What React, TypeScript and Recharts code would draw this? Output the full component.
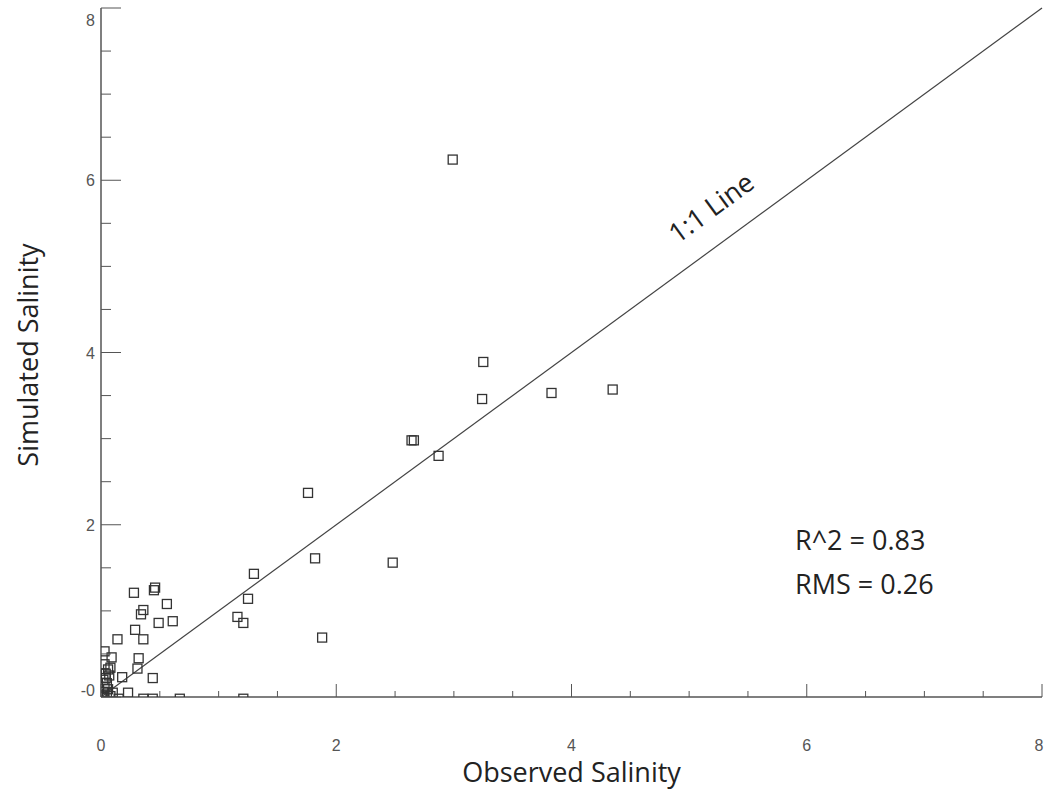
import React from "react";
import {
  ScatterChart,
  Scatter,
  XAxis,
  YAxis,
  ReferenceLine,
  ReferenceDot,
} from "recharts";

const observed = [
  2.99, 3.25, 3.24, 3.83, 4.35, 2.64, 2.66, 2.87, 1.76, 1.82, 2.48, 1.3, 1.25,
  1.16, 1.21, 1.88, 1.21, 0.28, 0.46, 0.45, 0.56, 0.36, 0.34, 0.49, 0.61, 0.29,
  0.36, 0.14, 0.03, 0.09, 0.32, 0.08, 0.31, 0.18, 0.44, 0.23, 0.15, 0.36, 0.44,
  0.67, 0.03, 0.06, 0.04, 0.07, 0.02, 0.05, 0.03, 0.06, 0.02, 0.05, 0.03, 0.08,
  0.01, 0.1, 0.04,
];
const simulated = [
  6.24, 3.89, 3.46, 3.53, 3.57, 2.98, 2.98, 2.8, 2.37, 1.61, 1.56, 1.43, 1.14,
  0.93, 0.86, 0.69, -0.02, 1.21, 1.27, 1.24, 1.08, 1.01, 0.96, 0.86, 0.88, 0.78,
  0.67, 0.67, 0.53, 0.46, 0.45, 0.34, 0.33, 0.23, 0.22, 0.05, -0.02, -0.02,
  -0.02, -0.02, 0.38, 0.32, 0.27, 0.25, 0.2, 0.16, 0.12, 0.09, 0.06, 0.04, 0.02,
  0.01, 0.0, 0.05, 0.22,
];
const axisTicks = [0, 0.5, 1, 1.5, 2, 2.5, 3, 3.5, 4, 4.5, 5, 5.5, 6, 6.5, 7, 7.5, 8];
const stats = ["R^2 = 0.83", "RMS = 0.26"];

const points = observed.map((x, i) => ({ x, y: simulated[i] }));

const AXIS = "#555";
const tickFont = { fontFamily: "Liberation Sans", fontSize: 16, fill: "#555" };

const isMajor = (v: number) => v % 2 === 0;

const BottomTick = (props: any) => {
  const { x, y, payload } = props;
  const v = payload.value;
  // last label sits against the page edge
  const dx = v === 8 ? -3 : 0;
  return (
    <g>
      <line x1={x} x2={x} y1={y} y2={y - (isMajor(v) ? 13 : 6)} stroke={AXIS} />
      {isMajor(v) && (
        <text x={x + dx} y={y + 54} textAnchor="middle" {...tickFont}>
          {v}
        </text>
      )}
    </g>
  );
};

const TopTick = (props: any) => {
  const { x, y, payload } = props;
  const v = payload.value;
  return <line x1={x} x2={x} y1={y} y2={y + (isMajor(v) ? 13 : 7)} stroke={AXIS} />;
};

const LeftTick = (props: any) => {
  const { x, y, payload } = props;
  const v = payload.value;
  // end labels are nudged inside the box like the original plot
  const dy = v === 8 ? 12 : v === 0 ? -7 : 0;
  return (
    <g>
      <line x1={x} x2={x + (isMajor(v) ? 20 : 10)} y1={y} y2={y} stroke={AXIS} />
      {isMajor(v) && (
        <text x={x - 6} y={y + dy + 6} textAnchor="end" {...tickFont}>
          {v === 0 ? "-0" : v}
        </text>
      )}
    </g>
  );
};

const RightTick = (props: any) => {
  const { x, y, payload } = props;
  const v = payload.value;
  return <line x1={x} x2={x - (isMajor(v) ? 20 : 10)} y1={y} y2={y} stroke={AXIS} />;
};

const Square = (props: any) => {
  const { cx, cy } = props;
  if (cx == null || cy == null) return null;
  return (
    <rect x={cx - 4.5} y={cy - 4.5} width={9} height={9} fill="none" stroke="#333" strokeWidth={1.3} />
  );
};

const labelFont = { fontFamily: "Open Sans", fill: "#222" };

const LineLabel = (props: any) => {
  const { cx, cy } = props;
  return (
    <text
      x={cx}
      y={cy}
      textAnchor="middle"
      dominantBaseline="middle"
      transform={`rotate(-36.2 ${cx} ${cy})`}
      fontSize={27}
      {...labelFont}
    >
      1:1 Line
    </text>
  );
};

const StatLabel = (text: string) => (props: any) => {
  const { cx, cy } = props;
  return (
    <text x={cx} y={cy} dominantBaseline="middle" fontSize={27} {...labelFont}>
      {text}
    </text>
  );
};

export default function App() {
  return (
    <div style={{ position: "absolute", left: 0, top: 0, width: 1044, height: 789, background: "#fff" }}>
      <ScatterChart width={1044} height={789} margin={{ top: 8, right: 2, bottom: 0, left: 0 }}>
        <XAxis
          xAxisId="b"
          type="number"
          dataKey="x"
          domain={[0, 8]}
          ticks={axisTicks}
          interval={0}
          allowDataOverflow
          height={92}
          tickSize={0}
          tickMargin={0}
          axisLine={{ stroke: AXIS, strokeWidth: 1.5 }}
          tick={<BottomTick />}
        />
        <XAxis
          xAxisId="t"
          orientation="top"
          type="number"
          dataKey="x"
          domain={[0, 8]}
          ticks={axisTicks}
          interval={0}
          allowDataOverflow
          height={0}
          tickSize={0}
          tickMargin={0}
          axisLine={{ stroke: AXIS, strokeWidth: 1.5 }}
          tick={<TopTick />}
        />
        <YAxis
          yAxisId="l"
          type="number"
          dataKey="y"
          domain={[0, 8]}
          ticks={axisTicks}
          interval={0}
          allowDataOverflow
          width={101}
          tickSize={0}
          tickMargin={0}
          axisLine={{ stroke: AXIS, strokeWidth: 1.5 }}
          tick={<LeftTick />}
        />
        <YAxis
          yAxisId="r"
          orientation="right"
          type="number"
          dataKey="y"
          domain={[0, 8]}
          ticks={axisTicks}
          interval={0}
          allowDataOverflow
          width={0}
          tickSize={0}
          tickMargin={0}
          axisLine={{ stroke: AXIS, strokeWidth: 1.5 }}
          tick={<RightTick />}
        />
        <ReferenceLine
          xAxisId="b"
          yAxisId="l"
          segment={[
            { x: 0, y: 0 },
            { x: 8, y: 8 },
          ]}
          stroke="#444"
          strokeWidth={1.2}
        />
        <Scatter
          xAxisId="b"
          yAxisId="l"
          data={points}
          shape={<Square />}
          isAnimationActive={false}
        />
        <ReferenceDot xAxisId="b" yAxisId="l" x={5.2} y={5.66} r={0} shape={<LineLabel />} />
        <ReferenceDot xAxisId="b" yAxisId="l" x={5.9} y={1.79} r={0} shape={StatLabel(stats[0])} />
        <ReferenceDot xAxisId="b" yAxisId="l" x={5.9} y={1.28} r={0} shape={StatLabel(stats[1])} />
      </ScatterChart>
      <div
        style={{
          position: "absolute",
          left: 101,
          width: 941,
          top: 754,
          textAlign: "center",
          fontFamily: "Open Sans",
          fontSize: 27,
          lineHeight: "36px",
          color: "#222",
        }}
      >
        Observed Salinity
      </div>
      <div
        style={{
          position: "absolute",
          left: 28,
          top: 355,
          transform: "translate(-50%, -50%) rotate(-90deg)",
          whiteSpace: "nowrap",
          fontFamily: "Open Sans",
          fontSize: 27,
          lineHeight: "36px",
          color: "#222",
        }}
      >
        Simulated Salinity
      </div>
    </div>
  );
}
